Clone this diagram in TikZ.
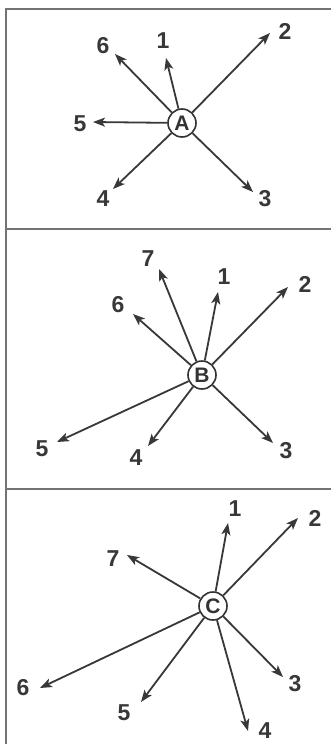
\documentclass[tikz,border=0pt]{standalone}
\usepackage{fontspec}
\setmainfont{Liberation Sans}
\usetikzlibrary{arrows.meta}
\begin{document}
\begin{tikzpicture}[x=1pt,y=-1pt,
  frame/.style={draw=black!55,line width=1.6pt},
  hub/.style={circle,draw=black!80,line width=1.6pt,fill=white,minimum size=28pt,inner sep=0pt,font=\bfseries\fontsize{21}{21}\selectfont,text=black!80},
  arr/.style={draw=black!78,line width=1.8pt,-{Stealth[length=12pt,width=9pt,inset=3pt]}},
  lab/.style={font=\bfseries\fontsize{23}{23}\selectfont,text=black!78,inner sep=0pt}]
\useasboundingbox (0,0) rectangle (331,744);
\fill[white] (0,0) rectangle (331,744);
% frame
\draw[frame] (6,744) -- (6,9) -- (331,9);
\draw[frame] (6,229) -- (331,229);
\draw[frame] (6,489) -- (331,489);
% Panel A
\node[hub] (A) at (182,123) {A};
\coordinate (a1) at (166,58);
\coordinate (a2) at (270,33);
\coordinate (a3) at (253,192);
\coordinate (a4) at (113,189);
\coordinate (a5) at (93,122);
\coordinate (a6) at (115,54);
\foreach \i in {1,...,6} \draw[arr] (A) -- (a\i);
\node[lab] (la1) at (163,41) {1};
\node[lab] (la2) at (285,31) {2};
\node[lab] (la3) at (265,199) {3};
\node[lab] (la4) at (103,199) {4};
\node[lab] (la5) at (80,124) {5};
\node[lab] (la6) at (103,46) {6};
% Panel B
\node[hub] (B) at (202,375) {B};
\coordinate (b1) at (218,292);
\coordinate (b2) at (288,287);
\coordinate (b3) at (273,443);
\coordinate (b4) at (148,446);
\coordinate (b5) at (57,442);
\coordinate (b6) at (133,314);
\coordinate (b7) at (159,269);
\foreach \i in {1,...,7} \draw[arr] (B) -- (b\i);
\node[lab] (lb1) at (224,277) {1};
\node[lab] (lb2) at (305,284) {2};
\node[lab] (lb3) at (286,451) {3};
\node[lab] (lb4) at (136,458) {4};
\node[lab] (lb5) at (42,449) {5};
\node[lab] (lb6) at (118,305) {6};
\node[lab] (lb7) at (148,259) {7};
% Panel C
\node[hub] (C) at (213,606) {C};
\coordinate (c1) at (228,523);
\coordinate (c2) at (298,518);
\coordinate (c3) at (283,677);
\coordinate (c4) at (248,731);
\coordinate (c5) at (141,702);
\coordinate (c6) at (40,688);
\coordinate (c7) at (127,555);
\foreach \i in {1,...,7} \draw[arr] (C) -- (c\i);
\node[lab] (lc1) at (235,509) {1};
\node[lab] (lc2) at (315,518) {2};
\node[lab] (lc3) at (295,684) {3};
\node[lab] (lc4) at (265,731) {4};
\node[lab] (lc5) at (124,713) {5};
\node[lab] (lc6) at (23,688) {6};
\node[lab] (lc7) at (113,559) {7};
\end{tikzpicture}
\end{document}
